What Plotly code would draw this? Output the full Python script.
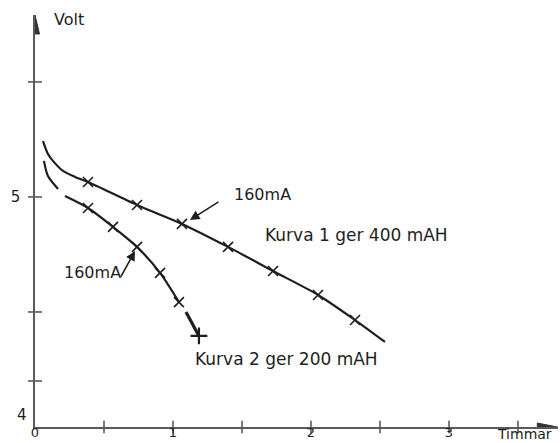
import plotly.graph_objects as go

# Discharge curves: hours vs. volts
curve1_t = [0.058, 0.094, 0.130, 0.203, 0.290, 0.384, 0.739, 1.065, 1.399, 1.725, 2.051, 2.319, 2.536]
curve1_v = [5.243, 5.187, 5.157, 5.113, 5.087, 5.065, 4.965, 4.883, 4.783, 4.678, 4.574, 4.465, 4.370]
curve1_mark_t = [0.384, 0.739, 1.065, 1.399, 1.725, 2.051, 2.319]
curve1_mark_v = [5.065, 4.965, 4.883, 4.783, 4.678, 4.574, 4.465]

curve2a_t = [0.065, 0.094, 0.167]
curve2a_v = [5.157, 5.091, 5.035]
curve2b_t = [0.217, 0.384, 0.565, 0.739, 0.906, 1.043]
curve2b_v = [5.004, 4.952, 4.870, 4.783, 4.670, 4.543]
curve2c_t = [1.094, 1.188]
curve2c_v = [4.500, 4.396]
curve2_mark_t = [0.384, 0.565, 0.739, 0.906, 1.043]
curve2_mark_v = [4.952, 4.870, 4.783, 4.670, 4.543]
curve2_end_t = [1.188]
curve2_end_v = [4.396]

# Axis ticks and labels
x_tick_marks = [0.5, 1.0, 1.5, 2.0, 2.5, 3.0, 3.5]
x_label_vals = [0, 1, 2, 3]
x_label_text = ["0", "1", "2", "3"]
y_tick_marks = [4.2, 4.5, 5.0, 5.5]
y_label_vals = [5]
y_label_text = ["5"]

X_MIN, X_MAX = 0.0, 3.79
Y_MIN, Y_MAX = 4.0, 5.791

INK = "#1e1e1e"
AXIS = "#5a5a5a"
FONT = "DejaVu Sans"

fig = go.Figure()

# tick marks crossing the axes
fig.add_trace(go.Scatter(
    x=x_tick_marks, y=[Y_MIN] * len(x_tick_marks), mode="markers",
    marker=dict(symbol="line-ns", size=9, line=dict(width=1.6, color=AXIS)),
    cliponaxis=False, hoverinfo="skip"))
fig.add_trace(go.Scatter(
    x=[X_MIN] * len(y_tick_marks), y=y_tick_marks, mode="markers",
    marker=dict(symbol="line-ew", size=10, line=dict(width=1.6, color=AXIS)),
    cliponaxis=False, hoverinfo="skip"))

# curve 1
fig.add_trace(go.Scatter(
    x=curve1_t, y=curve1_v, mode="lines",
    line=dict(color=INK, width=2.2, shape="spline", smoothing=0.8)))
fig.add_trace(go.Scatter(
    x=curve1_mark_t, y=curve1_mark_v, mode="markers",
    marker=dict(symbol="x-thin", size=10, line=dict(width=1.6, color=INK))))

# curve 2 (three pieces)
fig.add_trace(go.Scatter(
    x=curve2a_t, y=curve2a_v, mode="lines",
    line=dict(color=INK, width=2.2, shape="spline", smoothing=0.8)))
fig.add_trace(go.Scatter(
    x=curve2b_t, y=curve2b_v, mode="lines",
    line=dict(color=INK, width=2.2, shape="spline", smoothing=0.8)))
fig.add_trace(go.Scatter(
    x=curve2c_t, y=curve2c_v, mode="lines",
    line=dict(color=INK, width=3.2)))
fig.add_trace(go.Scatter(
    x=curve2_mark_t, y=curve2_mark_v, mode="markers",
    marker=dict(symbol="x-thin", size=10, line=dict(width=1.6, color=INK))))
fig.add_trace(go.Scatter(
    x=curve2_end_t, y=curve2_end_v, mode="markers",
    marker=dict(symbol="cross-thin", size=12, line=dict(width=2.2, color=INK)),
    cliponaxis=False))

# arrowheads on the axes
fig.add_shape(type="path", xref="x", yref="y", xsizemode="pixel", ysizemode="pixel",
              xanchor=X_MIN, yanchor=Y_MAX, path="M -4.5,-19 L 0,0 L 4.5,-19 Z",
              fillcolor="#333", line=dict(color="#333", width=1))
fig.add_shape(type="path", xref="x", yref="y", xsizemode="pixel", ysizemode="pixel",
              xanchor=X_MAX - 0.005, yanchor=Y_MIN, path="M -20,-4 L 0,0 L -20,4 Z",
              fillcolor="#333", line=dict(color="#333", width=1))

text_font = dict(family=FONT, size=16, color=INK)
annotations = [
    dict(x=0.246, y=5.770, xref="x", yref="y", text="Volt", showarrow=False,
         font=dict(family=FONT, size=16, color=INK)),
    dict(x=1, y=0, xref="paper", yref="paper", text="Timmar", showarrow=False,
         xanchor="right", yanchor="middle", xshift=-4, yshift=-7,
         font=dict(family=FONT, size=14, color=INK)),
    dict(x=0, y=4.052, xref="paper", yref="y", text="4", showarrow=False,
         xanchor="center", xshift=-13, font=dict(family=FONT, size=15, color=INK)),
    dict(x=2.333, y=4.835, xref="x", yref="y", text="Kurva 1 ger 400 mAH",
         showarrow=False, font=dict(family=FONT, size=17, color=INK)),
    dict(x=1.826, y=4.296, xref="x", yref="y", text="Kurva 2 ger 200 mAH",
         showarrow=False, font=dict(family=FONT, size=17, color=INK)),
    dict(x=1.645, y=5.009, xref="x", yref="y", text="160mA",
         showarrow=False, font=text_font),
    dict(x=0.420, y=4.670, xref="x", yref="y", text="160mA",
         showarrow=False, font=text_font),
    # pointer arrows
    dict(x=1.123, y=4.900, xref="x", yref="y", text="", showarrow=True,
         ax=30, ay=-19, arrowhead=2, arrowsize=1.2, arrowwidth=1.6, arrowcolor=INK),
    dict(x=0.725, y=4.765, xref="x", yref="y", text="", showarrow=True,
         ax=-15, ay=27, arrowhead=2, arrowsize=1.2, arrowwidth=1.6, arrowcolor=INK),
]

fig.update_layout(
    width=560, height=443,
    margin=dict(l=35, r=2, t=15, b=16),
    paper_bgcolor="white", plot_bgcolor="white",
    showlegend=False,
    annotations=annotations,
    xaxis=dict(range=[X_MIN, X_MAX], showline=True, linecolor=AXIS, linewidth=1.6,
               showgrid=False, zeroline=False, ticks="", tickmode="array",
               tickvals=x_label_vals, ticktext=x_label_text, automargin=False,
               ticklabelstandoff=-7,
               tickfont=dict(family=FONT, size=13, color=INK)),
    yaxis=dict(range=[Y_MIN, Y_MAX], showline=True, linecolor=AXIS, linewidth=1.6,
               showgrid=False, zeroline=False, ticks="", tickmode="array",
               tickvals=y_label_vals, ticktext=y_label_text, automargin=False,
               ticklabelstandoff=10,
               tickfont=dict(family=FONT, size=15, color=INK)),
)

fig.write_html("out.html")
